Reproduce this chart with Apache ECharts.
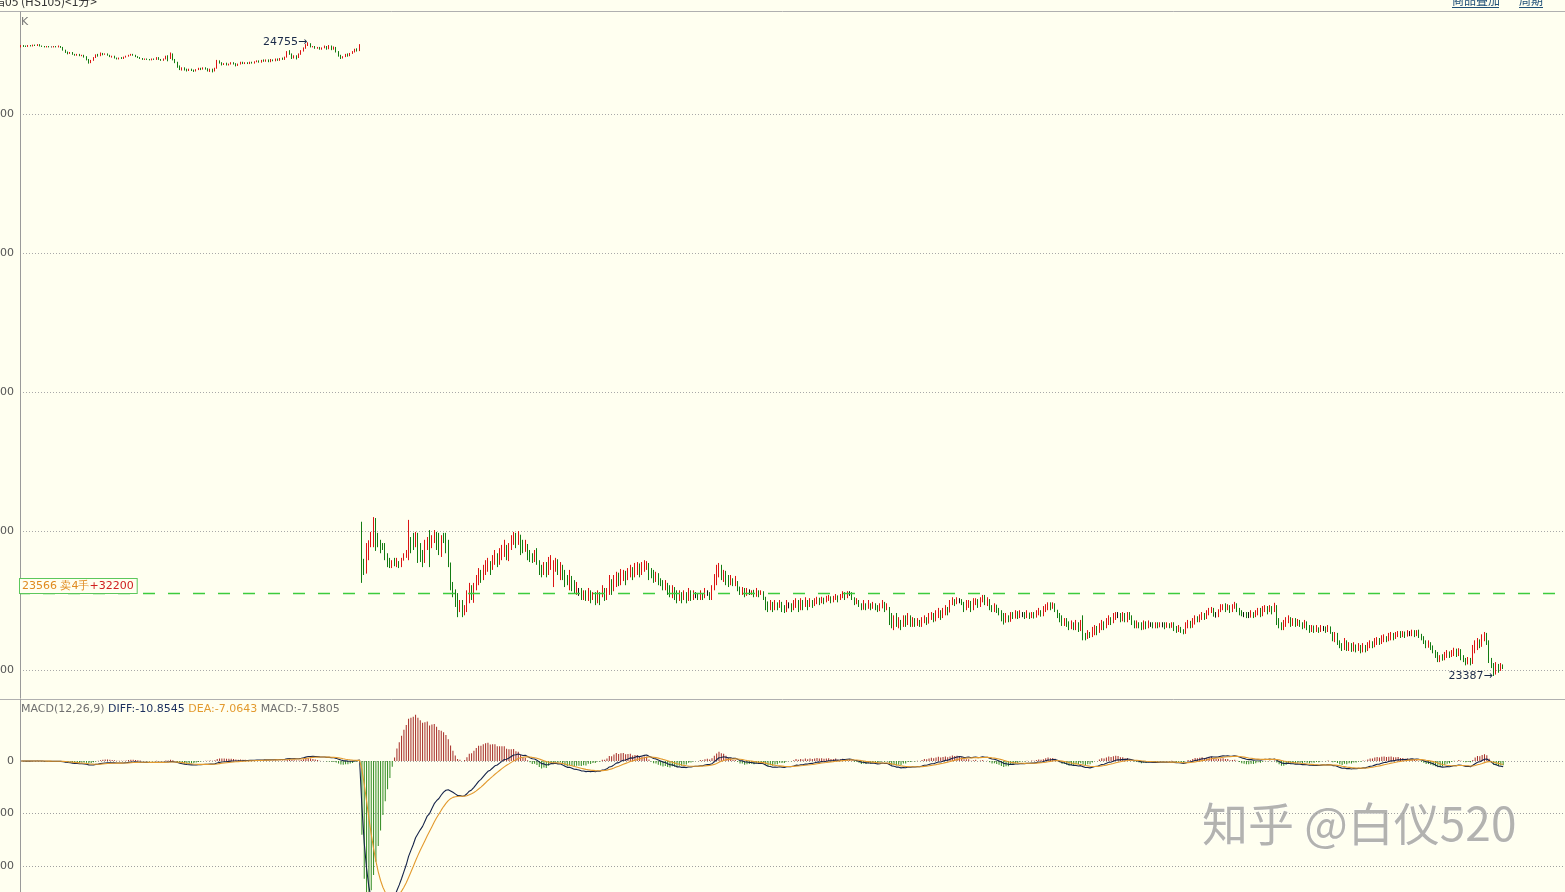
<!DOCTYPE html>
<html><head><meta charset="utf-8">
<script src="https://cdn.jsdelivr.net/npm/echarts@6/dist/echarts.min.js"></script>
<style>html,body{margin:0;padding:0;background:#fffff0;overflow:hidden}#c{width:1565px;height:892px}</style>
</head><body><div id="c"></div>
<script>
// ---- data ----
const priceTicks = [23400, 23700, 24000, 24300, 24600];
const macdTicks = [-200, -100, 0];
const slotCount = 662;              // visible candle slots on the x axis
const tradeLevel = 23566;
const tradeText = ['23566 卖4手', '+32200'];
const legendText = ['MACD(12,26,9) ', 'DIFF:-10.8545 ', 'DEA:-7.0643 ', 'MACD:-7.5805'];
const titleText = '恒指05 (HS105)<1分>';
const linkTexts = ['商品叠加', '周期'];
const watermark = '知乎 @白仪520';

// [open, close, low, high] – first session
const session1 = [
[24746,24748,24744,24749],[24748,24747,24745,24749],[24747,24746,24745,24748],[24746,24748,24745,24749],[24748,24747,24746,24749],
[24747,24749,24746,24750],[24749,24748,24747,24750],[24748,24750,24747,24751],[24750,24747,24746,24751],[24747,24746,24745,24748],
[24746,24745,24744,24747],[24745,24746,24744,24747],[24746,24745,24744,24747],[24745,24745,24744,24746],[24745,24746,24744,24747],
[24746,24745,24744,24747],[24745,24746,24744,24748],[24746,24744,24743,24747],[24744,24738,24737,24745],[24738,24734,24732,24739],
[24734,24731,24729,24735],[24731,24733,24730,24734],[24733,24729,24728,24734],[24729,24727,24726,24730],[24727,24729,24726,24730],
[24729,24726,24725,24730],[24726,24727,24725,24728],[24727,24724,24722,24728],[24724,24718,24716,24725],[24718,24711,24709,24719],
[24711,24716,24710,24717],[24716,24722,24715,24723],[24722,24728,24721,24729],[24728,24726,24724,24730],[24726,24731,24725,24733],
[24731,24729,24727,24732],[24729,24730,24728,24731],[24730,24727,24726,24731],[24727,24724,24723,24728],[24724,24725,24722,24726],
[24725,24721,24720,24726],[24721,24719,24718,24722],[24719,24721,24718,24722],[24721,24720,24719,24723],[24720,24723,24719,24724],
[24723,24725,24722,24726],[24725,24727,24724,24728],[24727,24729,24726,24730],[24729,24727,24726,24730],[24727,24724,24723,24728],
[24724,24722,24721,24725],[24722,24720,24719,24723],[24720,24718,24717,24721],[24718,24719,24717,24720],[24719,24718,24717,24720],
[24718,24717,24716,24719],[24717,24719,24716,24720],[24719,24718,24717,24720],[24718,24722,24717,24723],[24722,24718,24717,24723],
[24718,24716,24715,24719],[24716,24719,24715,24720],[24719,24724,24718,24726],[24724,24720,24714,24727],[24720,24729,24719,24733],
[24729,24718,24716,24731],[24718,24712,24710,24719],[24712,24703,24700,24713],[24703,24698,24695,24705],[24698,24700,24694,24701],
[24700,24696,24694,24701],[24696,24694,24692,24698],[24694,24697,24693,24698],[24697,24695,24693,24698],[24695,24693,24691,24696],
[24693,24696,24692,24697],[24696,24699,24695,24700],[24699,24697,24695,24700],[24697,24700,24696,24701],[24700,24698,24696,24701],
[24698,24694,24692,24699],[24694,24697,24691,24698],[24697,24693,24690,24698],[24693,24699,24692,24700],[24699,24714,24698,24717],
[24714,24711,24709,24716],[24711,24707,24705,24712],[24707,24709,24706,24710],[24709,24706,24705,24711],[24706,24708,24705,24709],
[24708,24711,24707,24712],[24711,24709,24707,24712],[24709,24705,24703,24710],[24705,24708,24704,24709],[24708,24712,24707,24713],
[24712,24709,24708,24713],[24709,24711,24708,24712],[24711,24709,24708,24712],[24709,24712,24708,24713],[24712,24710,24709,24713],
[24710,24713,24709,24714],[24713,24715,24712,24716],[24715,24712,24711,24716],[24712,24716,24711,24717],[24716,24714,24713,24718],
[24714,24717,24713,24718],[24717,24713,24712,24718],[24713,24717,24712,24719],[24717,24715,24714,24718],[24715,24719,24714,24720],
[24719,24716,24715,24720],[24716,24720,24715,24721],[24720,24718,24717,24722],[24718,24723,24717,24724],[24723,24733,24722,24736],
[24733,24730,24728,24738],[24730,24722,24719,24731],[24722,24726,24720,24727],[24726,24722,24718,24727],[24722,24729,24721,24731],
[24729,24736,24728,24738],[24736,24742,24735,24744],[24742,24749,24741,24751],[24749,24752,24747,24755],[24752,24745,24744,24753],
[24745,24746,24744,24747],[24746,24742,24741,24747],[24742,24744,24741,24745],[24744,24740,24739,24745],[24740,24743,24739,24744],
[24743,24746,24742,24748],[24746,24741,24739,24747],[24741,24747,24740,24749],[24747,24740,24738,24748],[24740,24744,24739,24746],
[24744,24735,24733,24745],[24735,24726,24724,24736],[24726,24721,24719,24728],[24721,24724,24720,24725],[24724,24729,24723,24730],
[24729,24726,24724,24731],[24726,24731,24725,24732],[24731,24734,24730,24736],[24734,24740,24733,24741],[24740,24737,24735,24742],
[24737,24749,24736,24751]
];

// [open, close, low, high] – second session
const session2 = [
[23688,23630,23588,23720],[23638,23612,23605,23640],[23612,23665,23608,23674],[23660,23677,23637,23680],[23672,23695,23665,23698],
[23680,23726,23665,23730],[23726,23668,23657,23728],[23690,23672,23665,23696],[23675,23660,23652,23681],[23668,23661,23659,23674],
[23666,23642,23637,23674],[23648,23628,23622,23652],[23638,23624,23620,23642],[23624,23634,23620,23637],[23634,23627,23624,23642],
[23625,23638,23622,23642],[23634,23624,23620,23635],[23624,23639,23622,23642],[23638,23650,23636,23652],[23645,23656,23642,23659],
[23640,23700,23637,23724],[23686,23660,23652,23687],[23694,23665,23659,23696],[23670,23693,23665,23698],[23693,23640,23631,23696],
[23672,23640,23633,23674],[23650,23630,23622,23659],[23632,23670,23631,23681],[23665,23683,23659,23687],[23700,23630,23622,23702],
[23665,23688,23663,23691],[23680,23698,23674,23702],[23696,23665,23659,23698],[23690,23652,23648,23696],[23650,23685,23644,23691],
[23694,23678,23674,23696],[23690,23660,23652,23696],[23672,23630,23622,23681],[23630,23585,23572,23632],[23588,23565,23557,23590],
[23570,23545,23536,23574],[23555,23528,23514,23566],[23528,23545,23525,23551],[23548,23522,23514,23551],[23525,23538,23518,23540],
[23530,23565,23525,23572],[23555,23580,23544,23588],[23580,23555,23551,23583],[23556,23585,23545,23588],[23582,23600,23572,23605],
[23590,23610,23583,23620],[23612,23595,23588,23616],[23600,23620,23594,23627],[23610,23630,23605,23637],[23615,23635,23612,23642],
[23633,23612,23605,23635],[23618,23640,23616,23648],[23630,23650,23627,23659],[23648,23628,23622,23652],[23630,23655,23627,23663],
[23640,23662,23637,23670],[23650,23672,23644,23681],[23668,23645,23637,23670],[23640,23670,23635,23674],[23665,23685,23659,23691],
[23675,23693,23670,23698],[23694,23670,23663,23696],[23672,23690,23670,23700],[23690,23655,23648,23692],[23672,23656,23652,23681],
[23656,23675,23655,23681],[23670,23645,23637,23672],[23655,23640,23633,23659],[23648,23635,23631,23652],[23636,23652,23633,23659],
[23658,23630,23627,23663],[23630,23610,23605,23637],[23615,23602,23600,23627],[23605,23625,23605,23633],[23628,23605,23600,23633],
[23608,23635,23605,23644],[23625,23645,23616,23648],[23590,23630,23579,23637],[23620,23640,23612,23642],[23637,23612,23605,23639],
[23605,23627,23594,23633],[23625,23600,23594,23627],[23605,23585,23579,23616],[23595,23585,23583,23605],[23580,23605,23572,23616],
[23600,23578,23570,23603],[23590,23570,23566,23594],[23568,23583,23562,23590],[23570,23570,23560,23577],[23575,23558,23551,23577],
[23556,23568,23551,23572],[23570,23553,23549,23572],[23552,23572,23549,23577],[23570,23550,23544,23572],[23552,23564,23551,23568],
[23565,23546,23540,23568],[23548,23568,23544,23572],[23566,23545,23540,23568],[23558,23577,23557,23583],[23575,23555,23549,23577],
[23556,23572,23551,23577],[23565,23598,23562,23605],[23595,23572,23562,23596],[23575,23600,23570,23605],[23590,23610,23579,23612],
[23608,23588,23581,23610],[23590,23610,23583,23618],[23600,23614,23592,23616],[23612,23595,23583,23614],[23596,23618,23594,23620],
[23605,23625,23600,23627],[23620,23600,23594,23622],[23605,23628,23600,23631],[23612,23630,23605,23633],[23628,23610,23600,23630],
[23612,23632,23605,23633],[23620,23635,23612,23637],[23620,23634,23616,23635],[23630,23600,23594,23631],[23612,23600,23598,23620],
[23608,23590,23588,23616],[23592,23605,23590,23612],[23605,23588,23583,23609],[23595,23583,23581,23598],[23590,23575,23572,23594],
[23576,23588,23572,23594],[23585,23565,23562,23588],[23575,23560,23557,23583],[23562,23578,23555,23583],[23578,23555,23551,23579],
[23565,23548,23544,23572],[23550,23568,23549,23572],[23565,23550,23544,23568],[23552,23565,23551,23572],[23562,23548,23544,23568],
[23550,23570,23549,23577],[23568,23555,23549,23572],[23556,23566,23551,23572],[23562,23562,23555,23568],[23565,23555,23551,23566],
[23555,23568,23551,23572],[23565,23556,23551,23566],[23557,23572,23555,23577],[23568,23568,23560,23572],[23566,23556,23551,23568],
[23556,23580,23551,23583],[23580,23605,23572,23607],[23590,23620,23583,23627],[23612,23630,23600,23631],[23625,23600,23594,23627],
[23598,23610,23590,23616],[23612,23590,23583,23614],[23598,23583,23579,23605],[23585,23598,23583,23605],[23596,23583,23581,23598],
[23584,23597,23581,23603],[23590,23572,23570,23592],[23578,23565,23562,23580],[23565,23576,23562,23579],[23575,23560,23557,23577],
[23562,23573,23560,23577],[23570,23570,23562,23574],[23565,23570,23562,23572],[23572,23560,23557,23573],[23560,23573,23558,23577],
[23570,23562,23557,23572],[23563,23570,23562,23572],[23568,23556,23551,23570],[23556,23535,23529,23558],[23540,23528,23525,23548],
[23530,23543,23529,23551],[23542,23528,23525,23547],[23530,23545,23529,23551],[23545,23534,23529,23546],[23536,23548,23534,23551],
[23545,23530,23525,23547],[23538,23528,23523,23540],[23528,23548,23525,23551],[23540,23540,23533,23546],[23543,23530,23525,23544],
[23532,23546,23529,23551],[23540,23552,23534,23555],[23549,23530,23525,23551],[23532,23550,23529,23555],[23548,23535,23529,23551],
[23538,23553,23536,23557],[23550,23536,23529,23551],[23538,23552,23536,23555],[23550,23540,23534,23551],[23540,23553,23538,23555],
[23548,23557,23542,23558],[23555,23545,23540,23556],[23547,23556,23544,23558],[23555,23546,23542,23556],[23548,23557,23546,23560],
[23552,23560,23549,23562],[23558,23548,23544,23559],[23550,23558,23546,23560],[23554,23563,23551,23564],[23560,23550,23546,23561],
[23552,23562,23551,23564],[23558,23568,23555,23570],[23566,23556,23551,23568],[23556,23567,23555,23570],[23565,23565,23560,23570],
[23566,23552,23551,23568],[23555,23542,23540,23557],[23543,23553,23542,23555],[23550,23538,23536,23551],[23540,23530,23529,23544],
[23532,23545,23530,23551],[23542,23531,23529,23544],[23533,23546,23532,23551],[23543,23532,23529,23544],[23533,23542,23532,23547],
[23542,23530,23529,23544],[23535,23527,23525,23540],[23528,23540,23527,23544],[23535,23548,23533,23551],[23545,23528,23525,23547],
[23530,23540,23529,23544],[23535,23505,23497,23536],[23515,23495,23490,23523],[23490,23510,23486,23518],[23515,23495,23493,23523],
[23495,23508,23490,23514],[23505,23490,23486,23508],[23495,23512,23493,23518],[23512,23497,23493,23518],[23499,23515,23497,23523],
[23514,23496,23493,23518],[23496,23507,23493,23514],[23506,23495,23493,23512],[23497,23505,23495,23512],[23504,23495,23493,23508],
[23496,23510,23493,23514],[23505,23515,23501,23518],[23512,23500,23497,23514],[23502,23517,23500,23523],[23510,23520,23508,23525],
[23518,23505,23503,23523],[23506,23525,23505,23529],[23515,23530,23512,23534],[23528,23512,23508,23529],[23514,23530,23512,23534],
[23520,23536,23518,23540],[23535,23522,23518,23536],[23524,23545,23524,23551],[23540,23553,23540,23557],[23552,23542,23538,23553],
[23544,23555,23542,23557],[23550,23550,23544,23555],[23552,23542,23540,23553],[23545,23528,23525,23547],[23530,23546,23529,23551],
[23538,23550,23534,23551],[23548,23530,23525,23549],[23530,23552,23529,23555],[23542,23554,23540,23555],[23552,23536,23534,23553],
[23538,23555,23536,23557],[23548,23560,23546,23562],[23560,23542,23540,23562],[23542,23555,23538,23557],[23552,23532,23529,23553],
[23535,23527,23525,23540],[23527,23542,23525,23544],[23540,23526,23523,23541],[23530,23520,23518,23534],[23522,23508,23505,23529],
[23512,23500,23498,23523],[23503,23515,23502,23523],[23514,23505,23503,23518],[23506,23520,23504,23525],[23520,23512,23510,23525],
[23512,23524,23511,23529],[23522,23513,23510,23527],[23514,23525,23512,23529],[23520,23520,23514,23525],[23522,23512,23510,23525],
[23513,23525,23512,23529],[23522,23514,23510,23524],[23514,23522,23512,23525],[23522,23513,23511,23525],[23514,23526,23513,23529],
[23520,23530,23518,23534],[23528,23517,23515,23529],[23518,23533,23516,23538],[23526,23540,23525,23542],[23532,23544,23529,23546],
[23544,23530,23529,23546],[23533,23543,23532,23546],[23542,23530,23525,23544],[23528,23515,23512,23530],[23516,23505,23503,23523],
[23506,23497,23495,23518],[23497,23508,23495,23512],[23506,23494,23493,23512],[23497,23488,23486,23505],[23490,23500,23488,23507],
[23498,23487,23486,23503],[23488,23500,23486,23508],[23498,23484,23482,23503],[23486,23500,23484,23508],[23505,23470,23464,23518],
[23478,23466,23464,23480],[23468,23480,23467,23486],[23478,23470,23469,23482],[23472,23490,23471,23493],[23480,23495,23475,23497],
[23494,23480,23475,23495],[23482,23500,23480,23501],[23490,23505,23486,23508],[23503,23490,23486,23505],[23492,23508,23490,23512],
[23500,23514,23497,23518],[23512,23500,23497,23514],[23502,23518,23501,23523],[23510,23522,23508,23525],[23518,23518,23512,23525],
[23520,23505,23503,23523],[23507,23520,23505,23525],[23520,23505,23503,23523],[23505,23522,23503,23525],[23524,23510,23508,23525],
[23512,23500,23497,23518],[23502,23492,23490,23507],[23492,23503,23490,23507],[23502,23493,23490,23503],[23497,23488,23486,23503],
[23488,23500,23487,23507],[23500,23490,23488,23505],[23491,23502,23490,23507],[23497,23497,23493,23503],[23500,23491,23490,23503],
[23492,23500,23490,23503],[23500,23492,23490,23503],[23494,23500,23492,23503],[23497,23497,23492,23503],[23499,23490,23488,23503],
[23492,23500,23491,23503],[23498,23491,23490,23501],[23492,23500,23491,23503],[23498,23486,23484,23503],[23490,23482,23480,23495],
[23483,23492,23482,23497],[23490,23482,23480,23493],[23485,23478,23477,23488],[23480,23498,23478,23503],[23492,23505,23490,23508],
[23504,23492,23490,23506],[23494,23510,23491,23512],[23502,23516,23498,23518],[23514,23505,23503,23516],[23506,23518,23503,23520],
[23510,23523,23508,23525],[23520,23510,23508,23523],[23512,23526,23510,23529],[23520,23532,23518,23534],[23525,23534,23523,23536],
[23532,23518,23515,23534],[23518,23518,23513,23525],[23518,23530,23514,23531],[23528,23540,23525,23542],[23532,23540,23529,23542],
[23542,23530,23525,23544],[23532,23540,23529,23542],[23538,23526,23523,23540],[23528,23540,23525,23542],[23535,23545,23532,23547],
[23543,23530,23525,23544],[23532,23522,23518,23534],[23524,23517,23516,23529],[23520,23520,23514,23525],[23522,23513,23512,23525],
[23518,23518,23512,23525],[23514,23526,23513,23529],[23524,23514,23512,23525],[23516,23526,23514,23529],[23520,23532,23518,23534],
[23532,23516,23514,23534],[23518,23536,23516,23538],[23528,23540,23525,23540],[23536,23524,23520,23538],[23526,23538,23525,23540],
[23536,23524,23520,23538],[23526,23542,23525,23545],[23538,23505,23497,23540],[23510,23495,23490,23512],[23498,23488,23486,23503],
[23488,23500,23486,23508],[23495,23510,23493,23514],[23502,23515,23501,23518],[23513,23495,23493,23514],[23497,23508,23495,23512],
[23508,23495,23493,23512],[23496,23507,23495,23510],[23505,23496,23493,23508],[23500,23490,23488,23503],[23492,23503,23490,23508],
[23502,23488,23486,23505],[23492,23482,23480,23497],[23484,23494,23482,23497],[23492,23482,23480,23496],[23484,23493,23482,23497],
[23490,23482,23480,23492],[23484,23494,23482,23497],[23490,23490,23484,23495],[23492,23482,23480,23494],[23484,23494,23482,23497],
[23492,23480,23478,23494],[23480,23465,23462,23482],[23465,23478,23460,23482],[23478,23456,23454,23480],[23460,23448,23447,23464],
[23450,23443,23441,23458],[23445,23462,23443,23469],[23460,23443,23441,23464],[23444,23455,23441,23460],[23455,23440,23439,23458],
[23441,23455,23440,23460],[23452,23441,23438,23455],[23442,23452,23441,23458],[23450,23439,23436,23454],[23440,23455,23438,23458],
[23452,23441,23438,23454],[23442,23458,23441,23460],[23450,23462,23447,23464],[23460,23450,23447,23462],[23452,23466,23449,23469],
[23458,23468,23454,23471],[23466,23456,23454,23469],[23458,23472,23456,23475],[23464,23474,23460,23477],[23472,23462,23460,23473],
[23464,23478,23462,23480],[23470,23480,23464,23482],[23478,23466,23464,23480],[23468,23480,23467,23482],[23474,23483,23471,23484],
[23482,23471,23469,23484],[23472,23483,23471,23484],[23482,23471,23469,23483],[23473,23485,23472,23486],[23480,23480,23473,23484],
[23474,23485,23473,23487],[23484,23472,23471,23486],[23474,23485,23473,23486],[23486,23470,23469,23487],[23474,23465,23464,23478],
[23468,23458,23456,23473],[23460,23448,23447,23464],[23449,23460,23448,23464],[23458,23445,23443,23460],[23448,23438,23436,23453],
[23440,23428,23426,23443],[23432,23419,23417,23439],[23420,23430,23417,23432],[23430,23424,23420,23434],[23422,23436,23421,23439],
[23428,23440,23426,23443],[23438,23428,23426,23440],[23430,23442,23428,23443],[23434,23446,23430,23448],[23444,23432,23428,23446],
[23434,23445,23430,23447],[23443,23426,23421,23445],[23428,23420,23417,23432],[23423,23413,23410,23426],[23414,23424,23412,23428],
[23424,23412,23410,23426],[23415,23450,23413,23454],[23440,23462,23436,23464],[23445,23465,23443,23469],[23464,23450,23447,23466],
[23452,23472,23450,23477],[23464,23478,23462,23482],[23478,23458,23454,23480],[23460,23420,23415,23464],[23425,23410,23404,23426],
[23412,23392,23387,23415],[23395,23412,23390,23417],[23410,23400,23394,23413],[23402,23408,23398,23415],[23409,23404,23402,23412]
];

// ---- build ----
const candles = session1.concat(session2);
const categories = Array.from({length: slotCount}, (_, i) => String(i));
const closes = candles.map(c => c[1]);
function ema(arr, n) {
  const k = 2 / (n + 1), out = [];
  arr.forEach((v, i) => out.push(i === 0 ? v : out[i - 1] + k * (v - out[i - 1])));
  return out;
}
const ema12 = ema(closes, 12), ema26 = ema(closes, 26);
const diff = ema12.map((v, i) => v - ema26[i]);
const dea = ema(diff, 9);
const macd = diff.map((v, i) => 2 * (v - dea[i]));

const UP = '#dc1414', DOWN = '#137c13';
const FONT = 'DejaVu Sans';
const chart = echarts.init(document.getElementById('c'), null, {renderer: 'canvas'});
chart.setOption({
  animation: false,
  backgroundColor: '#fffff0',
  grid: [
    {left: 20, right: 0, top: 12, height: 686, containLabel: false, outerBoundsMode: 'none'},
    {left: 20, right: 0, top: 699, bottom: 0, containLabel: false, outerBoundsMode: 'none'}
  ],
  xAxis: [
    {type: 'category', gridIndex: 0, data: categories, boundaryGap: true, show: false},
    {type: 'category', gridIndex: 1, data: categories, boundaryGap: true, show: false}
  ],
  yAxis: [
    {type: 'value', gridIndex: 0, min: 23339.5, max: 24820.4, scale: true,
     axisLine: {show: true, onZero: false, lineStyle: {color: '#9a9a9a', width: 1}},
     axisTick: {show: false, customValues: priceTicks},
     axisLabel: {customValues: priceTicks, color: '#555', fontSize: 11, fontFamily: FONT, margin: 6,
                 formatter: v => String(v)},
     splitLine: {show: true, lineStyle: {color: '#a9a9a9', type: [1, 2], width: 1}}},
    {type: 'value', gridIndex: 1, min: -249.5, max: 118.1,
     axisLine: {show: true, onZero: false, lineStyle: {color: '#9a9a9a', width: 1}},
     axisTick: {show: false, customValues: macdTicks},
     axisLabel: {customValues: macdTicks, color: '#555', fontSize: 11, fontFamily: FONT, margin: 6,
                 formatter: v => String(v)},
     splitLine: {show: true, lineStyle: {color: '#a0a0a0', type: [1, 2], width: 1}}}
  ],
  series: [
    {type: 'candlestick', xAxisIndex: 0, yAxisIndex: 0, data: candles, large: false,
     barWidth: 0.9, silent: true,
     itemStyle: {color: UP, color0: DOWN, borderColor: UP, borderColor0: DOWN, borderColorDoji: '#111', borderWidth: 1},
     markPoint: {
       symbol: 'circle', symbolSize: 0, silent: true,
       label: {show: true, position: 'left', distance: 1, color: '#1a2a48', fontSize: 11, fontFamily: FONT,
               formatter: p => Math.round(p.value) + '→'},
       data: [{type: 'max', valueDim: 'highest'}, {type: 'min', valueDim: 'lowest'}]
     },
     markLine: {
       symbol: ['none', 'none'], silent: true, animation: false,
       lineStyle: {color: '#3ccc3c', type: [12, 13], dashOffset: 2, width: 1.4},
       label: {show: true, position: 'insideStartTop', distance: 0,
               formatter: () => '{a|' + tradeText[0] + '}{b|' + tradeText[1] + '}',
               backgroundColor: '#fffff0', borderColor: '#5cc85c', borderWidth: 1, padding: [2, 3, 1, 2],
               rich: {a: {color: '#e08a1e', fontSize: 11, fontFamily: FONT},
                      b: {color: '#d02020', fontSize: 11, fontFamily: FONT}}},
       data: [{yAxis: tradeLevel}]
     }},
    {type: 'bar', xAxisIndex: 1, yAxisIndex: 1, data: macd, barWidth: 1, silent: true,
     itemStyle: {color: p => p.value >= 0 ? '#a52a24' : '#2f8a1f'}},
    {type: 'line', xAxisIndex: 1, yAxisIndex: 1, data: diff, symbol: 'none', silent: true,
     lineStyle: {color: '#16244a', width: 1.1}},
    {type: 'line', xAxisIndex: 1, yAxisIndex: 1, data: dea, symbol: 'none', silent: true,
     lineStyle: {color: '#e39a2e', width: 1.1}}
  ],
  graphic: [
    {type: 'line', silent: true, shape: {x1: 0, y1: 11.5, x2: 1565, y2: 11.5}, style: {stroke: '#b0b0b0', lineWidth: 1}},
    {type: 'line', silent: true, shape: {x1: 0, y1: 699.5, x2: 1565, y2: 699.5}, style: {stroke: '#b0b0b0', lineWidth: 1}},
    {type: 'text', silent: true, x: -19, y: -5, style: {text: titleText, fill: '#333', font: '12px "Noto Sans CJK SC"'}},
    {type: 'text', silent: true, x: 1452, y: -6, style: {text: linkTexts[0], fill: '#1f4f77', font: '12px "Noto Sans CJK SC"'}},
    {type: 'line', silent: true, shape: {x1: 1452, y1: 7.5, x2: 1499, y2: 7.5}, style: {stroke: '#1f4f77', lineWidth: 1}},
    {type: 'text', silent: true, x: 1519, y: -6, style: {text: linkTexts[1], fill: '#1f4f77', font: '12px "Noto Sans CJK SC"'}},
    {type: 'line', silent: true, shape: {x1: 1519, y1: 7.5, x2: 1543, y2: 7.5}, style: {stroke: '#1f4f77', lineWidth: 1}},
    {type: 'text', silent: true, x: 21, y: 17, style: {text: 'K', fill: '#777', font: '11px "DejaVu Sans"'}},
    {type: 'text', silent: true, x: 21, y: 704, style: {
      text: '{g|' + legendText[0] + '}{d|' + legendText[1] + '}{e|' + legendText[2] + '}{g|' + legendText[3] + '}',
      rich: {g: {fill: '#707070', fontSize: 11, fontFamily: FONT},
             d: {fill: '#1b2f5e', fontSize: 11, fontFamily: FONT},
             e: {fill: '#e39a2e', fontSize: 11, fontFamily: FONT}}}},
    {type: 'text', silent: true, x: 1202, y: 801, z: 100, style: {text: watermark,
      fill: 'rgba(150,150,150,0.72)', stroke: 'rgba(255,255,255,0.7)', lineWidth: 1,
      font: '46px "Noto Sans CJK SC"'}}
  ]
});
</script>
</body></html>
